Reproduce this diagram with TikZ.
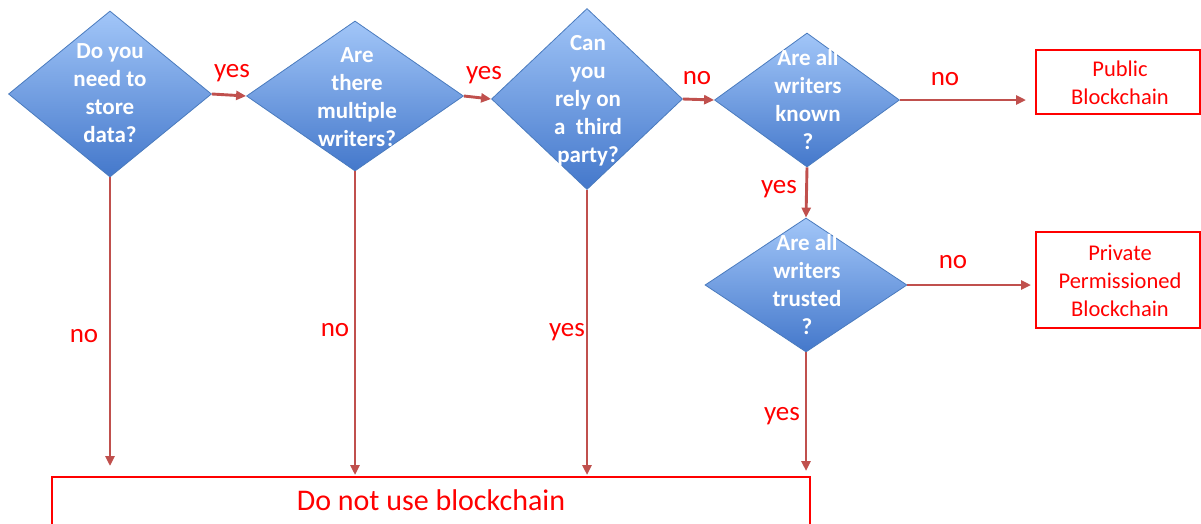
\documentclass[tikz,border=0pt]{standalone}
\usepackage{fontspec}
\setmainfont{Carlito}
\usetikzlibrary{shapes.geometric,arrows.meta}
\definecolor{arrowred}{HTML}{C0504D}
\definecolor{labelred}{HTML}{FF0000}
\definecolor{dtop}{HTML}{A2C6F8}
\definecolor{dbot}{HTML}{4478CB}
\definecolor{dborder}{HTML}{4A7BBE}
\tikzset{
  decision/.style={shape=diamond, draw=dborder, line width=0.8pt, inner sep=0pt,
    top color=dtop, bottom color=dbot},
  dtext/.style={text=white, font=\fontsize{23}{28}\selectfont\bfseries, align=center, inner sep=0pt},
  flow/.style={draw=arrowred, line width=2.9pt, -{Triangle[length=10pt,width=9pt]}},
  lbl/.style={text=labelred, font=\fontsize{27}{32}\selectfont, anchor=base, inner sep=0pt},
  outbox/.style={draw=labelred, line width=1.6pt, fill=white, inner sep=0pt},
  btext/.style={text=labelred, font=\fontsize{22.5}{28}\selectfont, align=center, inner sep=0pt}
}
\begin{document}
\begin{tikzpicture}[x=1pt,y=-1pt]
\useasboundingbox (0,0) rectangle (1201,523);
% decisions
\node[decision, minimum width=203pt, minimum height=166pt] (d1) at (110,94) {};
\node[decision, minimum width=217pt, minimum height=150pt] (d2) at (355,96) {};
\node[decision, minimum width=191pt, minimum height=181pt] (d3) at (587,99) {};
\node[decision, minimum width=185pt, minimum height=134pt] (d4) at (807,100) {};
\node[decision, minimum width=202pt, minimum height=134pt] (d5) at (806,285) {};
\node[dtext] (t1) at (110,93) {Do you\\need to\\store\\data?};
\node[dtext] (t2) at (357,97) {Are\\there\\multiple\\writers?};
\node[dtext] (t3) at (588,101) {Can\\you\\rely on\\a~~third\\party?};
\node[dtext] (t4) at (808,100) {Are all\\writers\\known\\?};
\node[dtext] (t5) at (807,285) {Are all\\writers\\trusted\\?};
% outcome boxes
\draw[outbox] (1036,50) rectangle (1200,114);
\node[btext] (pub) at (1120,83) {Public\\Blockchain};
\draw[outbox] (1036,232) rectangle (1200,328);
\node[btext] (priv) at (1120,281) {Private\\Permissioned\\Blockchain};
\draw[outbox] (52,477) rectangle (810,540);
\node[text=labelred, font=\fontsize{30}{36}\selectfont, anchor=base, inner sep=0pt] (dnu) at (431,510) {Do not use blockchain};
% free ends
\coordinate (e1) at (110,466);
\coordinate (e2) at (355,475);
\coordinate (e3) at (587,475);
\coordinate (e5) at (806,471);
\coordinate (epub) at (1026,100);
\coordinate (epriv) at (1031,285);
% connectors
\draw[flow] (d1.east) -- (d2.west);
\draw[flow] (d2.east) -- (d3.west);
\draw[flow] (d3.east) -- (d4.west);
\draw[flow] (d4.east) -- (epub);
\draw[flow] (d4.south) -- (d5.north);
\draw[flow] (d5.east) -- (epriv);
\draw[flow] (d1.south) -- (e1);
\draw[flow] (d2.south) -- (e2);
\draw[flow] (d3.south) -- (e3);
\draw[flow] (d5.south) -- (e5);
% labels
\node[lbl] (l1) at (232,77) {yes};
\node[lbl] (l2) at (484,79) {yes};
\node[lbl] (l3) at (697,84) {no};
\node[lbl] (l4) at (945,85) {no};
\node[lbl] (l5) at (779,193) {yes};
\node[lbl] (l6) at (953,268) {no};
\node[lbl] (l7) at (84,342) {no};
\node[lbl] (l8) at (335,336) {no};
\node[lbl] (l9) at (567,336) {yes};
\node[lbl] (l10) at (782,420) {yes};
\end{tikzpicture}
\end{document}
